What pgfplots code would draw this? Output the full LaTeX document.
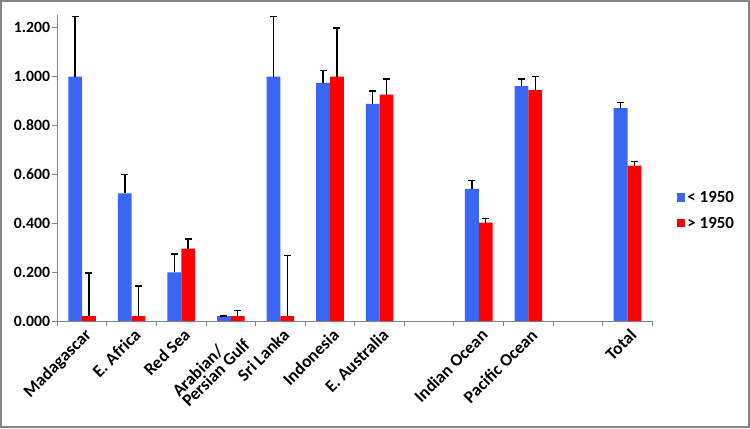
\documentclass[border=0pt]{standalone}
\usepackage{fontspec}
\setmainfont{Carlito}
\usepackage{pgfplots}
\pgfplotsset{compat=1.18}
\definecolor{barblue}{RGB}{58,102,246}
\definecolor{barred}{RGB}{255,0,0}
\definecolor{axgray}{RGB}{134,134,134}
\begin{document}
\begin{tikzpicture}[x=1bp,y=1bp]
\path[use as bounding box] (0,0) rectangle (750,428);
\draw[axgray, line width=2bp] (1,1) rectangle (749,427);
\begin{axis}[
  at={(57.3bp,107bp)}, anchor=south west,
  scale only axis, width=595bp, height=305.5bp,
  ymin=0, ymax=1.25, xmin=-0.5, xmax=11.5,
  clip=false,
  axis lines*=left,
  axis line style={axgray, line width=1bp, -},
  ybar=0pt, bar width=13.8bp,
  xtick={0,...,11},
  xticklabels={Madagascar,E. Africa,Red Sea,{Arabian/\\Persian Gulf},Sri Lanka,Indonesia,E. Australia,{},Indian Ocean,Pacific Ocean,{},Total},
  x tick label style={rotate=45, anchor=north east, align=left, font=\bfseries\fontsize{17.5}{14}\selectfont, inner sep=2bp, xshift=2bp},
  major x tick style={draw=none},
  minor xtick={-0.5,0.5,...,11.5},
  minor x tick style={axgray, line width=1bp},
  minor tick length=5bp,
  tick align=outside,
  ytick={0,0.2,...,1.2},
  y tick style={axgray, line width=1bp},
  major tick length=5bp,
  yticklabel style={font=\bfseries\fontsize{15.8}{17}\selectfont, inner sep=2bp},
  /pgf/number format/.cd, fixed, fixed zerofill, precision=3, assume math mode=true,
  /pgfplots/.cd,
  error bars/y dir=plus,
  error bars/y explicit,
  error bars/error bar style={black, line width=1.5bp},
  error bars/error mark options={black, line width=1.5bp, mark size=3.5bp, rotate=90},
  legend style={draw=none, fill=none, at={(1.041,0.362)}, anchor=west, font=\bfseries\fontsize{17}{19}\selectfont, row sep=9bp, inner sep=0pt},
  legend cell align=left,
]
\addplot[fill=barblue, draw=none, legend image code/.code={\fill[barblue] (0bp,-4bp) rectangle (8.5bp,4.5bp);}]
  coordinates {
  (0,1.000) +- (0,0.245)
  (1,0.522) +- (0,0.077)
  (2,0.199) +- (0,0.076)
  (3,0.020) +- (0,0.001)
  (4,1.000) +- (0,0.245)
  (5,0.974) +- (0,0.050)
  (6,0.888) +- (0,0.053)
  (8,0.541) +- (0,0.034)
  (9,0.961) +- (0,0.029)
  (11,0.871) +- (0,0.022)
  };
\addlegendentry{< 1950}
\addplot[fill=barred, draw=none, legend image code/.code={\fill[barred] (0bp,-4bp) rectangle (8.5bp,4.5bp);}]
  coordinates {
  (0,0.020) +- (0,0.177)
  (1,0.020) +- (0,0.124)
  (2,0.296) +- (0,0.039)
  (3,0.020) +- (0,0.023)
  (4,0.020) +- (0,0.248)
  (5,1.000) +- (0,0.198)
  (6,0.926) +- (0,0.064)
  (8,0.403) +- (0,0.017)
  (9,0.945) +- (0,0.056)
  (11,0.636) +- (0,0.017)
  };
\addlegendentry{> 1950}
\end{axis}
\end{tikzpicture}
\end{document}
